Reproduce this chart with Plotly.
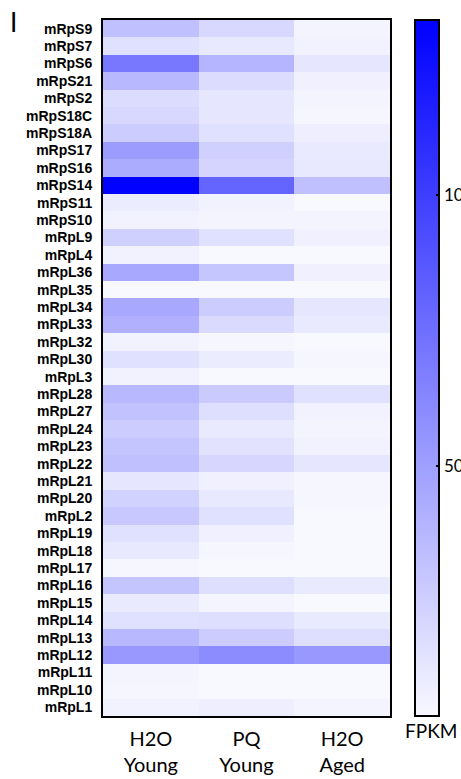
import plotly.graph_objects as go

genes = ["mRpS9", "mRpS7", "mRpS6", "mRpS21", "mRpS2", "mRpS18C", "mRpS18A", "mRpS17",
         "mRpS16", "mRpS14", "mRpS11", "mRpS10", "mRpL9", "mRpL4", "mRpL36", "mRpL35",
         "mRpL34", "mRpL33", "mRpL32", "mRpL30", "mRpL3", "mRpL28", "mRpL27", "mRpL24",
         "mRpL23", "mRpL22", "mRpL21", "mRpL20", "mRpL2", "mRpL19", "mRpL18", "mRpL17",
         "mRpL16", "mRpL15", "mRpL14", "mRpL13", "mRpL12", "mRpL11", "mRpL10", "mRpL1"]

conditions = ["H2O<br>Young", "PQ<br>Young", "H2O<br>Aged"]

h2o_young = [32.7, 16.1, 70.1, 36.9, 18.2, 20.2, 26.5, 51.4, 43.1, 132.0, 9.9, 6.7, 24.4, 6.7,
             45.2, 3.6, 45.2, 41.0, 6.7, 16.1, 6.7, 36.9, 31.7, 26.5, 30.6, 32.7, 13.0, 23.4,
             28.6, 16.1, 11.9, 4.7, 30.6, 10.9, 16.1, 36.9, 53.5, 5.7, 4.7, 6.7]
pq_young = [20.2, 11.9, 38.9, 18.2, 13.0, 13.0, 16.1, 24.4, 22.3, 80.5, 6.7, 5.7, 16.1, 3.6,
            29.6, 3.6, 26.5, 19.2, 4.7, 9.9, 2.6, 27.5, 17.1, 10.9, 15.1, 21.3, 7.8, 11.9,
            16.1, 7.8, 4.7, 2.6, 17.1, 5.7, 17.1, 26.5, 59.7, 3.6, 1.6, 8.8]
h2o_aged = [5.7, 6.7, 13.0, 7.8, 5.7, 4.7, 8.8, 10.9, 11.9, 32.7, 2.6, 5.7, 7.8, 3.6,
            7.8, 0.0, 13.0, 10.9, 1.6, 4.7, 2.6, 16.1, 6.7, 5.7, 6.7, 13.0, 4.7, 4.7,
            1.6, 1.6, 1.6, 1.6, 10.9, 2.6, 10.9, 17.1, 53.5, 2.6, 1.6, 5.7]

cbar_ticks = [50, 100]
cbar_ticktext = ["50", "100"]
zmin, zmax = 3.7, 132.4

z = [[a, b, c] for a, b, c in zip(h2o_young, pq_young, h2o_aged)]

# pixel geometry
W, H = 461, 779
L, R, T, B = 103, 390, 20, 716
CB_L, CB_W = 415, 24

def px_x(p):
    return (p - L) / (R - L)

fig = go.Figure(go.Heatmap(
    z=z, x=conditions, y=genes,
    zmin=zmin, zmax=zmax,
    colorscale=[[0, "#f8f8ff"], [1, "#0000ff"]],
    colorbar=dict(
        x=px_x(CB_L), xanchor="left", xref="paper",
        y=0.5, yanchor="middle", len=1.0, lenmode="fraction",
        thickness=CB_W, outlinecolor="black", outlinewidth=2,
        tickvals=cbar_ticks, ticktext=cbar_ticktext,
        ticks="inside", ticklen=4, tickcolor="black", tickwidth=2,
        tickfont=dict(family="Lato, Open Sans, sans-serif", size=17, color="black"),
        ypad=0, xpad=0,
    ),
    hoverongaps=False,
))

# left-side tick marks on colorbar (mirror of inside ticks)
shapes = []
for v in cbar_ticks:
    yp = (v - zmin) / (zmax - zmin)
    shapes.append(dict(type="line", xref="paper", yref="paper",
                       x0=px_x(CB_L), x1=px_x(CB_L + 5), y0=yp, y1=yp,
                       line=dict(color="black", width=2)))

fig.update_layout(
    width=W, height=H,
    margin=dict(l=L, r=W - R, t=T, b=H - B, pad=0, autoexpand=False),
    paper_bgcolor="white", plot_bgcolor="white",
    shapes=shapes,
    xaxis=dict(showline=True, mirror=True, linecolor="black", linewidth=2,
               ticks="", showgrid=False, zeroline=False, automargin=False,
               ticklabelstandoff=4,
               tickfont=dict(family="Lato, Open Sans, sans-serif", size=20, color="black")),
    yaxis=dict(showline=True, mirror=True, linecolor="black", linewidth=2,
               ticks="", showgrid=False, zeroline=False, autorange="reversed",
               ticklabelstandoff=6, automargin=False,
               tickfont=dict(family="Liberation Sans, Arial, sans-serif", size=14,
                             color="black", weight="bold")),
    annotations=[
        dict(text="FPKM", xref="paper", yref="paper",
             x=px_x(431), y=(B - 730) / (B - T),
             xanchor="center", yanchor="middle", showarrow=False,
             font=dict(family="Lato, Open Sans, sans-serif", size=19, color="black")),
        dict(text="I", xref="paper", yref="paper",
             x=px_x(13), y=(B - 22) / (B - T),
             xanchor="center", yanchor="middle", showarrow=False,
             font=dict(family="Lato, Open Sans, sans-serif", size=26, color="black")),
    ],
)

fig.write_html("out.html", config={"displayModeBar": False},
               post_script="document.body.style.margin='0';document.body.style.padding='0';")
